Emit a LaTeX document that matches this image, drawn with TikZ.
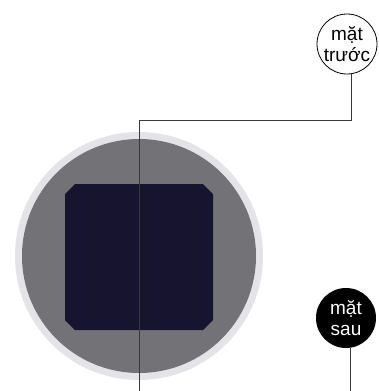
\documentclass[tikz,border=0pt]{standalone}
\usepackage{fontspec}
\setmainfont{Liberation Sans}
\definecolor{ringc}{HTML}{E4E4E8}
\definecolor{discc}{HTML}{737377}
\definecolor{chipc}{HTML}{16142E}
\definecolor{linec}{HTML}{3A3A3A}
\begin{document}
\begin{tikzpicture}[x=1pt,y=-1pt,
  label/.style={circle, minimum size=60pt, inner sep=0pt, align=center,
    font=\fontsize{19}{21}\selectfont},
  conn/.style={draw=linec, line width=0.9pt}]
\useasboundingbox (0,0) rectangle (378,391);
\fill[white] (0,0) rectangle (378,391);
% disc
\node[circle, fill=ringc, minimum size=248pt, inner sep=0pt] (disc) at (139,256) {};
\node[circle, fill=discc, minimum size=234pt, inner sep=0pt] (face) at (139,256) {};
\fill[chipc] (75,184) -- (203,184) -- (213,194) -- (213,320) -- (203,330)
  -- (75,330) -- (65,320) -- (65,194) -- cycle;
% labels
\node[label, draw=black, line width=0.8pt, fill=white] (front) at (347,44) {mặt\\trước};
\node[label, fill=black, text=white] (back) at (346,318) {mặt\\sau};
\coordinate (turn) at (139,120);
\coordinate (end1) at (139,391);
\coordinate (end2) at (351,391);
\draw[conn] (front.-82) |- (turn) -- (end1);
\draw[conn] (back.-82) -- (back.-82 |- end2);
\end{tikzpicture}
\end{document}
